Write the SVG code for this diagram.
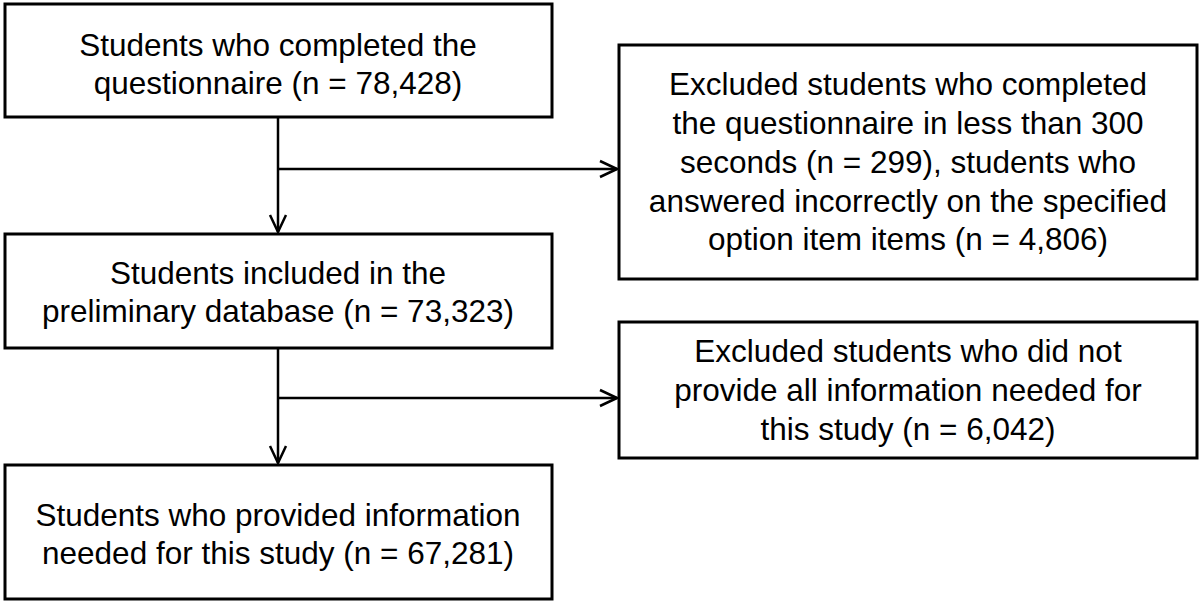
<svg xmlns="http://www.w3.org/2000/svg" width="1200" height="603" viewBox="0 0 1200 603">
<defs>
<style>
.b{fill:#fff;stroke:#000;stroke-width:3}
.t{font-family:"Liberation Sans",Arial,sans-serif;font-size:31.5px;fill:#000;text-anchor:middle}
.c{fill:none;stroke:#000;stroke-width:2.5}
</style>
<marker id="a" viewBox="0 0 20 20" refX="19" refY="10" markerWidth="20" markerHeight="20" markerUnits="userSpaceOnUse" orient="auto"><path d="M2,2 L19,10 L2,18" fill="none" stroke="#000" stroke-width="2.5"/></marker>
</defs>
<rect width="1200" height="603" fill="#fff"/>
<g id="connectors">
<path class="c" d="M278,117 V232" marker-end="url(#a)"/>
<path class="c" d="M278,169 H617" marker-end="url(#a)"/>
<path class="c" d="M278,348 V463" marker-end="url(#a)"/>
<path class="c" d="M278,398 H617" marker-end="url(#a)"/>
</g>
<g id="n1"><rect class="b" x="5" y="4" width="547" height="113"/>
<text class="t" x="278" y="56">Students who completed the</text><text class="t" x="278" y="94">questionnaire (n = 78,428)</text></g>
<g id="n2"><rect class="b" x="619" y="45" width="578" height="234"/>
<text class="t" x="908" y="95">Excluded students who completed</text><text class="t" x="908" y="134">the questionnaire in less than 300</text><text class="t" x="908" y="173">seconds (n = 299), students who</text><text class="t" x="908" y="212">answered incorrectly on the specified</text><text class="t" x="908" y="250">option item items (n = 4,806)</text></g>
<g id="n3"><rect class="b" x="5" y="234" width="547" height="114"/>
<text class="t" x="278" y="284">Students included in the</text><text class="t" x="278" y="322">preliminary database (n = 73,323)</text></g>
<g id="n4"><rect class="b" x="619" y="322" width="578" height="136"/>
<text class="t" x="908" y="362">Excluded students who did not</text><text class="t" x="908" y="401">provide all information needed for</text><text class="t" x="908" y="440">this study (n = 6,042)</text></g>
<g id="n5"><rect class="b" x="5" y="465" width="547" height="134"/>
<text class="t" x="278" y="526">Students who provided information</text><text class="t" x="278" y="564">needed for this study (n = 67,281)</text></g>
</svg>
